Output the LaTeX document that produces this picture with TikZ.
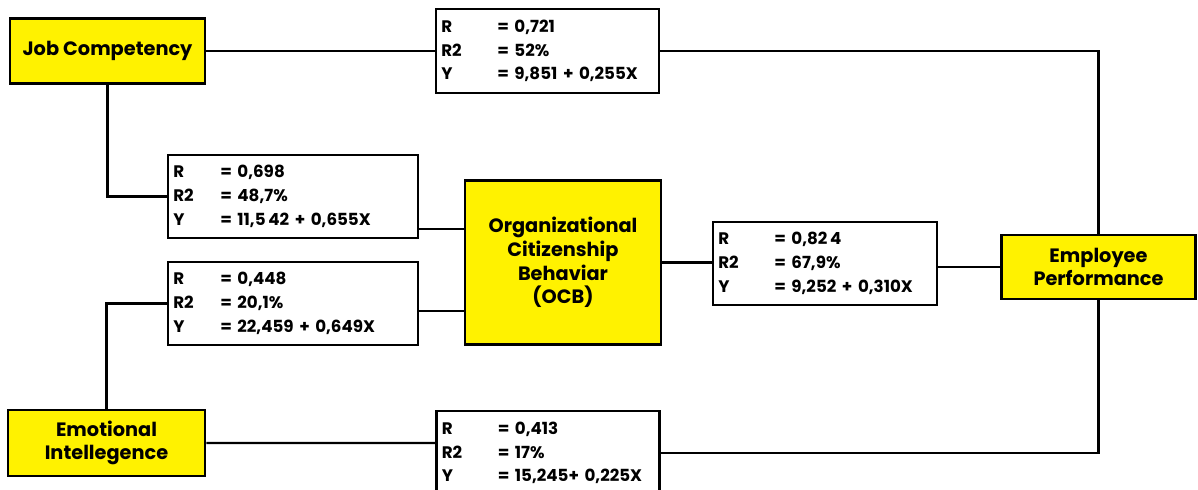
\documentclass[tikz,border=0pt]{standalone}
\usepackage{fontspec}
\setmainfont{Poppins}
\usetikzlibrary{positioning}

\tikzset{
  varbox/.style={draw, line width=1.5pt, fill=yellow, align=center,
    font=\bfseries\fontsize{11}{13.5}\selectfont, inner sep=2pt},
  resultbox/.style={draw, line width=1.3pt, fill=white, align=left,
    font=\bfseries\fontsize{9.5}{13.5}\selectfont, inner xsep=3pt, inner ysep=2pt},
  link/.style={line width=1.2pt},
}
\newcommand{\regr}[4]{\makebox[#1][l]{R}= #2\\\makebox[#1][l]{R2}= #3\\\makebox[#1][l]{Y}= #4}

\begin{document}
\begin{tikzpicture}[x=0.02cm, y=-0.02cm]
    \useasboundingbox (0,0) rectangle (1198,490);

    % Variables
    \node[varbox, minimum width=3.9cm, minimum height=1.3cm] (jc) at (107.5,51) {Job Competency};
    \node[varbox, minimum width=3.94cm, minimum height=1.32cm] (ei) at (106.5,443) {Emotional\\Intellegence};
    \node[varbox, minimum width=3.92cm, minimum height=3.28cm] (ocb) at (563,262.5)
        {Organizational\\Citizenship\\Behaviar\\(OCB)};
    \node[varbox, minimum width=3.88cm, minimum height=1.28cm] (ep) at (1098.5,267) {Employee\\Performance};

    % Regression results
    \node[resultbox, minimum width=4.46cm, minimum height=1.68cm, text width=4.25cm] (rJcEp) at (547.5,51)
        {\regr{1.12cm}{0,721}{52\%}{9,851 + 0,255X}};
    \node[resultbox, minimum width=5cm, minimum height=1.66cm, text width=4.79cm] (rJcOcb) at (293,196.5)
        {\regr{0.94cm}{0,698}{48,7\%}{11,5\,42 + 0,655X}};
    \node[resultbox, minimum width=5cm, minimum height=1.66cm, text width=4.79cm] (rEiOcb) at (293,303.5)
        {\regr{0.94cm}{0,448}{20,1\%}{22,459 + 0,649X}};
    \node[resultbox, minimum width=4.48cm, minimum height=1.66cm, text width=4.27cm] (rOcbEp) at (825,263.5)
        {\regr{1.12cm}{0,82\,4}{67,9\%}{9,252 + 0,310X}};
    \node[resultbox, minimum width=4.46cm, minimum height=1.68cm, text width=4.25cm] (rEiEp) at (548,453)
        {\regr{1.12cm}{0,413}{17\%}{15,245+ 0,225X}};

    % Connectors
    \coordinate (jcOut) at ([yshift=-0.65cm]rJcOcb.east);
    \coordinate (eiOut) at ([yshift=-0.15cm]rEiOcb.east);
    \coordinate (eiIn) at ([yshift=0.2cm]rEiEp.west);

    \draw[link] (jc.east) -- (rJcEp.west);
    \draw[link] (rJcEp.east) -| (ep.north);
    \draw[link] (jc.south) |- (rJcOcb.west);
    \draw[link] (jcOut) -- (jcOut -| ocb.west);
    \draw[link] (rEiOcb.west) -| (ei.north);
    \draw[link] (eiOut) -- (eiOut -| ocb.west);
    \draw[link] (ocb.east) -- (ocb.east -| rOcbEp.west);
    \draw[link] (rOcbEp.east |- ep.west) -- (ep.west);
    \draw[link] (ei.east) -- (eiIn);
    \draw[link] (rEiEp.east) -| (ep.south);
\end{tikzpicture}
\end{document}
